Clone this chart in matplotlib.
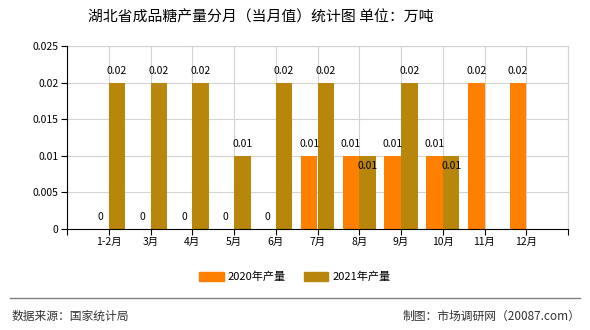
import matplotlib
matplotlib.use("Agg")
import matplotlib.pyplot as plt
import numpy as np

plt.rcParams["font.family"] = ["Noto Sans CJK SC", "DejaVu Sans"]

months = ["1-2月", "3月", "4月", "5月", "6月", "7月", "8月", "9月", "10月", "11月", "12月"]
output_2020 = [0, 0, 0, 0, 0, 0.01, 0.01, 0.01, 0.01, 0.02, 0.02]
output_2021 = [0.02, 0.02, 0.02, 0.01, 0.02, 0.02, 0.01, 0.02, 0.01, None, None]
y_ticks = [0, 0.005, 0.01, 0.015, 0.02, 0.025]
y_labels = ["0", "0.005", "0.01", "0.015", "0.02", "0.025"]

C2020 = "#ff7f00"
C2021 = "#b8860b"
W = 0.4

fig = plt.figure(figsize=(5.9, 3.3), dpi=100)
ax = fig.add_axes([67 / 590, 101 / 330, 501 / 590, 183 / 330])

x = np.arange(len(months))
v21 = np.array([np.nan if v is None else v for v in output_2021])
ax.bar(x - W / 2, output_2020, W, color=C2020, zorder=3)
ax.bar(x + W / 2, v21, W, color=C2021, zorder=3)

for i, v in enumerate(output_2020):
    ax.annotate(f"{v:g}", (x[i] - W / 2, v), xytext=(0, 5), textcoords="offset points",
                ha="center", va="bottom", fontsize=7.5, zorder=5)
for i, v in enumerate(output_2021):
    if v is None:
        continue
    # same height as the 2020 bar: label goes inside the bar top
    dy = -11 if v == output_2020[i] else 5
    ax.annotate(f"{v:g}", (x[i] + W / 2, v), xytext=(0, dy), textcoords="offset points",
                ha="center", va="bottom", fontsize=7.5, zorder=5)

ax.set_xlim(-1, 11)
ax.set_ylim(0, 0.025)
ax.set_xticks(np.arange(-1, 12))
ax.set_xticklabels([""] + months + [""], fontsize=7.5)
ax.set_yticks(y_ticks)
ax.set_yticklabels(y_labels, fontsize=7.5)
ax.tick_params(length=4, width=0.8, color="black", pad=2)
ax.grid(True, color="#d3d3d3", linewidth=0.8, zorder=0)
for s in ["top", "right"]:
    ax.spines[s].set_color("#d3d3d3")
for s in ["left", "bottom"]:
    ax.spines[s].set_color("black")
    ax.spines[s].set_zorder(4)

fig.text(261 / 590, 0.948, "湖北省成品糖产量分月（当月值）统计图 单位：万吨", ha="center", va="center",
         fontsize=10.7)

handles = [plt.Rectangle((0, 0), 1, 1, color=C2020), plt.Rectangle((0, 0), 1, 1, color=C2021)]
fig.legend(handles, ["2020年产量", "2021年产量"], loc="center", bbox_to_anchor=(0.5, 53 / 330),
           ncol=2, frameon=False, fontsize=8, handlelength=2.2, handleheight=0.8,
           columnspacing=1.6, handletextpad=0.4)

fig.add_artist(plt.Line2D([10 / 590, 580 / 590], [32 / 330, 32 / 330], color="#808080", linewidth=1))
fig.text(12 / 590, 14 / 330, "数据来源：国家统计局", ha="left", va="center", fontsize=8.5, color="#333333")
fig.text(580 / 590, 14 / 330, "制图：市场调研网（20087.com）", ha="right", va="center", fontsize=8.5,
         color="#333333")

fig.savefig("out.png", dpi=100)
